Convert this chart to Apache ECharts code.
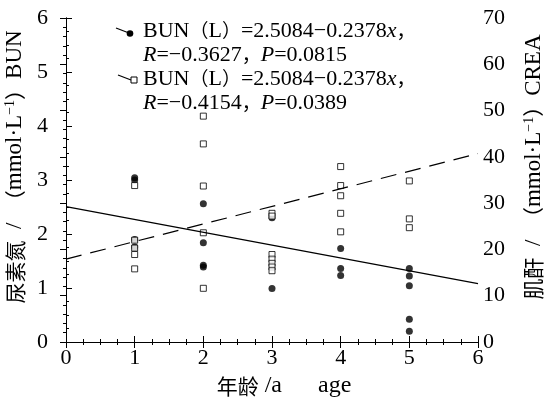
<!DOCTYPE html>
<html>
<head>
<meta charset="utf-8">
<script src="https://cdn.jsdelivr.net/npm/echarts@6/dist/echarts.min.js"></script>
<style>
html, body { margin: 0; padding: 0; background: #fff; }
#chart { width: 545px; height: 403px; }
</style>
</head>
<body>
<div id="chart"></div>
<script>
// ages (years) and the measured values at each age
var ages = [1, 2, 3, 4, 5];
var bunByAge = [
    [3.04, 3.00, 1.90, 1.76],
    [2.56, 1.84, 1.42, 1.39],
    [2.30, 0.99],
    [1.73, 1.36, 1.23],
    [1.36, 1.22, 1.04, 0.42, 0.20]
];
var creaByAge = [
    [33.8, 22.0, 20.3, 18.9, 15.8],
    [48.8, 42.8, 33.7, 23.6, 11.6],
    [27.8, 27.2, 18.9, 17.9, 17.0, 16.2, 15.4],
    [37.9, 33.8, 31.6, 27.8, 23.8],
    [34.8, 26.6, 24.7]
];
// regression lines, end points at x=0 and x=6
var fitX = [0, 6];
var bunFit = [2.5084, 1.0816];
var creaFit = [17.9, 40.7];

var leftTicks = ['0', '1', '2', '3', '4', '5', '6'];
var rightTicks = ['0', '10', '20', '30', '40', '50', '60', '70'];

function pairs(xs, groups) {
    var out = [];
    for (var i = 0; i < xs.length; i++) {
        for (var j = 0; j < groups[i].length; j++) {
            out.push([xs[i], groups[i][j]]);
        }
    }
    return out;
}
function line(xs, ys) {
    return xs.map(function (x, i) { return [x, ys[i]]; });
}

var serif = "'Liberation Serif', 'DejaVu Serif', 'Noto Sans CJK SC', serif";
var cjk = "'Noto Sans CJK SC', serif";
var axisFont = { fontFamily: serif, fontSize: 22, color: '#000' };
var black = { color: '#000', width: 1 };

// rich styles for axis names: chinese, superscript
var nameRich = {
    c: { fontFamily: cjk, fontSize: 21, color: '#000' },
    s: { fontFamily: serif, fontSize: 14, color: '#000', verticalAlign: 'top' }
};
var richStyle = {
    n: { fontFamily: serif, fontSize: 22, fill: '#000' },
    i: { fontFamily: serif, fontSize: 22, fontStyle: 'italic', fill: '#000' },
    c: { fontFamily: cjk, fontSize: 19, fill: '#000' }
};

var myChart = echarts.init(document.getElementById('chart'));
var option = {
    animation: false,
    backgroundColor: '#fff',
    grid: { left: 66, right: 67, top: 18, bottom: 61, outerBoundsMode: 'none', containLabel: false },
    xAxis: [{
        type: 'value', min: 0, max: 6, interval: 1,
        name: '{c|年龄} /a      age', nameLocation: 'middle', nameGap: 31,
        nameTextStyle: { fontFamily: serif, fontSize: 24, color: '#000', padding: [0, 0, 0, 24], rich: nameRich },
        axisLine: { lineStyle: black },
        axisTick: { inside: true, length: 6, lineStyle: black },
        minorTick: { show: true, splitNumber: 4, length: 3, lineStyle: black },
        axisLabel: Object.assign({ margin: 5 }, axisFont),
        splitLine: { show: false }
    }, {
        type: 'value', min: 0, max: 6, interval: 1, position: 'top',
        axisLine: { lineStyle: black },
        axisTick: { inside: true, length: 6, lineStyle: black },
        minorTick: { show: true, splitNumber: 4, length: 3, lineStyle: black },
        axisLabel: { show: false },
        splitLine: { show: false }
    }],
    yAxis: [{
        type: 'value', min: 0, max: 6, interval: 1, position: 'left',
        name: '{c|尿素氮}  /  {c|（}mmol·L{s|−1}{c|）}BUN', nameLocation: 'middle', nameGap: 27, nameRotate: 90,
        nameTextStyle: { fontFamily: serif, fontSize: 23, color: '#000', padding: [0, 0, 0, 26], rich: nameRich },
        axisLine: { show: true, lineStyle: black },
        axisTick: { show: true, inside: true, length: 6, lineStyle: black },
        minorTick: { show: true, splitNumber: 4, length: 3, lineStyle: black },
        axisLabel: Object.assign({ margin: 18, formatter: function (v) { return leftTicks[v]; } }, axisFont),
        splitLine: { show: false }
    }, {
        type: 'value', min: 0, max: 70, interval: 10, position: 'right',
        name: '{c|肌酐}  /  {c|（}mmol·L{s|−1}{c|）}CREA', nameLocation: 'middle', nameGap: 44, nameRotate: 90,
        nameTextStyle: { fontFamily: serif, fontSize: 23, color: '#000', padding: [0, 0, 0, 26], rich: nameRich },
        axisLine: { show: true, lineStyle: black },
        axisTick: { show: true, inside: true, length: 6, lineStyle: black },
        minorTick: { show: true, splitNumber: 5, length: 3, lineStyle: black },
        axisLabel: Object.assign({ margin: 5, formatter: function (v) { return rightTicks[v / 10]; } }, axisFont),
        splitLine: { show: false }
    }],
    series: [{
        name: 'BUN fit', type: 'line', yAxisIndex: 0,
        data: line(fitX, bunFit), symbol: 'none',
        lineStyle: { color: '#000', width: 1.2 }
    }, {
        name: 'CREA fit', type: 'line', yAxisIndex: 1,
        data: line(fitX, creaFit), symbol: 'none',
        lineStyle: { color: '#000', width: 1.2, type: [16, 9] }
    }, {
        name: 'BUN', type: 'scatter', yAxisIndex: 0,
        data: pairs(ages, bunByAge), symbol: 'circle', symbolSize: 7,
        itemStyle: { color: '#000' }
    }, {
        name: 'CREA', type: 'scatter', yAxisIndex: 1,
        data: pairs(ages, creaByAge), symbol: 'rect', symbolSize: 6,
        itemStyle: { color: '#fff', borderColor: '#000', borderWidth: 1 }
    }],
    graphic: [
        // legend icons
        { type: 'line', shape: { x1: 116, y1: 28, x2: 129, y2: 33 }, style: { stroke: '#000', lineWidth: 1.2 } },
        { type: 'circle', shape: { cx: 130, cy: 33.5, r: 3.3 }, style: { fill: '#000' } },
        { type: 'line', shape: { x1: 118, y1: 75, x2: 131, y2: 80 }, style: { stroke: '#000', lineWidth: 1.2 } },
        { type: 'rect', shape: { x: 131, y: 77, width: 6, height: 6 }, style: { fill: '#fff', stroke: '#000', lineWidth: 1 } },
        // legend texts
        { type: 'text', left: 143, top: 20, style: { text: '{n|BUN}{c|（}{n|L}{c|）}{n|=2.5084−0.2378}{i|x}{c|，}', rich: richStyle } },
        { type: 'text', left: 143, top: 44, style: { text: '{i|R}{n|=−0.3627}{c|，}{i|P}{n|=0.0815}', rich: richStyle } },
        { type: 'text', left: 143, top: 68, style: { text: '{n|BUN}{c|（}{n|L}{c|）}{n|=2.5084−0.2378}{i|x}{c|，}', rich: richStyle } },
        { type: 'text', left: 143, top: 92, style: { text: '{i|R}{n|=−0.4154}{c|，}{i|P}{n|=0.0389}', rich: richStyle } }
    ]
};
myChart.setOption(option);
</script>
</body>
</html>
